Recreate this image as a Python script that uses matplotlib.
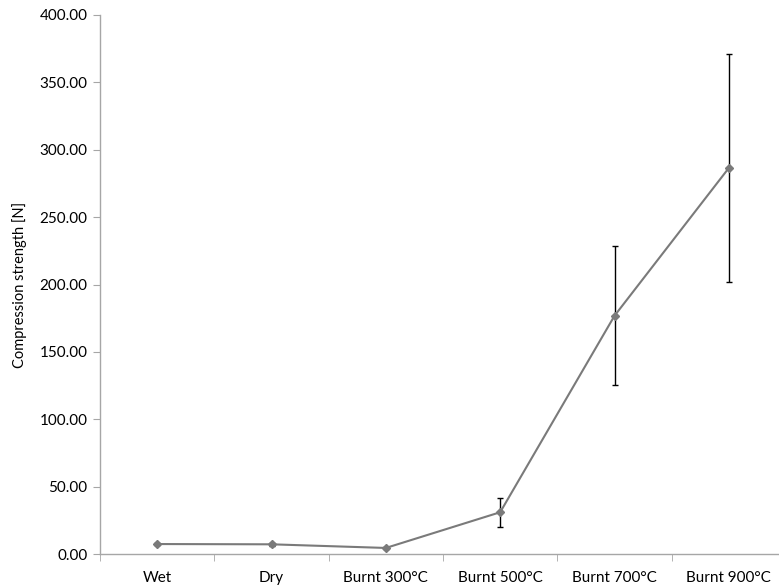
import matplotlib.pyplot as plt
import numpy as np
from matplotlib.ticker import FormatStrFormatter, FixedLocator

# ====== DATOS ======
categorias = ['Wet', 'Dry', 'Burnt 300°C', 'Burnt 500°C', 'Burnt 700°C', 'Burnt 900°C']
resistencia = [7.4, 7.2, 4.5, 31.0, 176.8, 286.5]
error = [1.0, 1.0, 0.8, 10.6, 51.7, 84.7]

plt.rcParams['font.family'] = ['Lato', 'DejaVu Sans']

fig = plt.figure(figsize=(7.79, 5.88), dpi=100)
ax = fig.add_axes([0.1284, 0.0578, 0.8806, 0.9167])

x = np.arange(len(categorias))
ax.errorbar(x, resistencia, yerr=error, fmt='none', ecolor='black',
            elinewidth=1.0, capsize=2.5, capthick=1.0, zorder=2)
ax.plot(x, resistencia, color='#7a7a7a', linewidth=1.5, marker='D',
        markersize=4, markerfacecolor='#7a7a7a', markeredgecolor='#7a7a7a', zorder=3)

ax.set_xlim(-0.5, len(categorias) - 0.5)
ax.set_ylim(0, 400)
ax.set_yticks(np.arange(0, 401, 50))
ax.yaxis.set_major_formatter(FormatStrFormatter('%.2f'))
ax.set_xticks(x)
ax.set_xticklabels(categorias)
ax.xaxis.set_minor_locator(FixedLocator(np.arange(-0.5, len(categorias), 1.0)))

ax.set_ylabel('Compression strength [N]', fontsize=10.5, labelpad=9)

for s in ['top', 'right']:
    ax.spines[s].set_visible(False)
for s in ['left', 'bottom']:
    ax.spines[s].set_color('#a6a6a6')
    ax.spines[s].set_linewidth(1.0)

ax.tick_params(axis='x', which='major', length=0, labelsize=11, pad=12)
ax.tick_params(axis='x', which='minor', length=5, color='#a6a6a6', direction='out')
ax.tick_params(axis='y', length=5, color='#a6a6a6', labelsize=11, pad=4)

fig.savefig('out.png', dpi=100)
